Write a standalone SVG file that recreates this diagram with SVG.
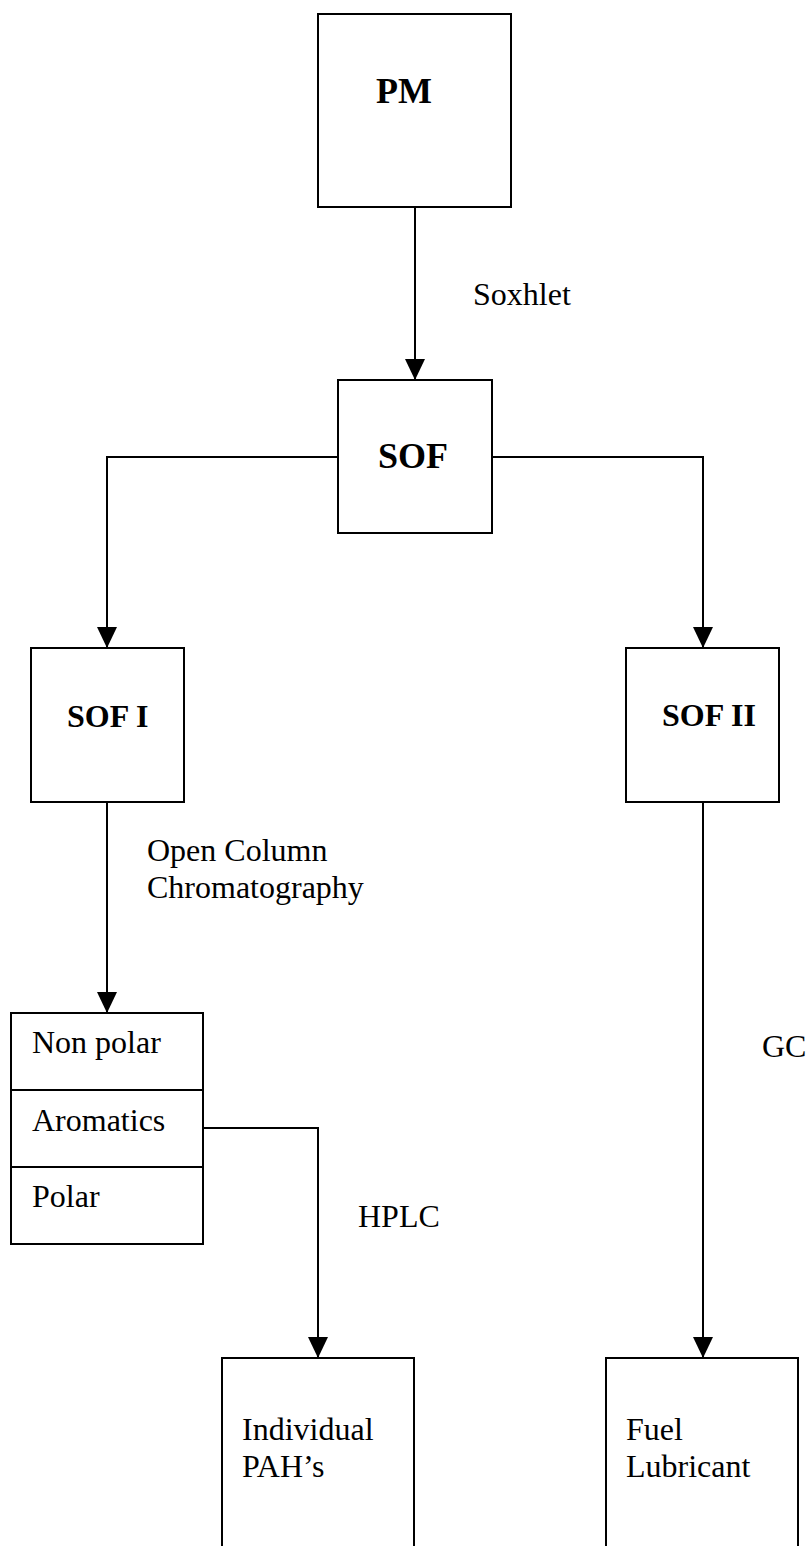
<svg xmlns="http://www.w3.org/2000/svg" width="807" height="1546" viewBox="0 0 807 1546">
<style>
.box{fill:#fff;stroke:#000;stroke-width:2}
.ln{fill:none;stroke:#000;stroke-width:2}
.b{font-family:"Liberation Serif","Times New Roman",serif;font-weight:bold;fill:#000}
.t{font-family:"Liberation Serif","Times New Roman",serif;font-size:32px;fill:#000}
</style>
<defs>
<marker id="ah" markerUnits="userSpaceOnUse" markerWidth="21" markerHeight="20" viewBox="0 0 21 20" refX="21" refY="10" orient="auto">
<path d="M0,0 L21,10 L0,20 Z" fill="#000"/>
</marker>
</defs>
<rect width="807" height="1546" fill="#fff"/>
<g id="connectors">
<path class="ln" d="M415,207 V380" marker-end="url(#ah)"/>
<path class="ln" d="M338,457 H107 V648" marker-end="url(#ah)"/>
<path class="ln" d="M492,457 H703 V648" marker-end="url(#ah)"/>
<path class="ln" d="M107,802 V1013" marker-end="url(#ah)"/>
<path class="ln" d="M203,1128 H318 V1358" marker-end="url(#ah)"/>
<path class="ln" d="M703,802 V1358" marker-end="url(#ah)"/>
<text class="t" x="473" y="305">Soxhlet</text>
<text class="t" x="147" y="861">Open Column</text>
<text class="t" x="147" y="898">Chromatography</text>
<text class="t" x="358" y="1227">HPLC</text>
<text class="t" x="762" y="1057">GC</text>
</g>
<g id="pm">
<rect class="box" x="318" y="14" width="193" height="193"/>
<text class="b" x="376" y="103" font-size="36">PM</text>
</g>
<g id="sof">
<rect class="box" x="338" y="380" width="154" height="153"/>
<text class="b" x="378" y="468" font-size="36">SOF</text>
</g>
<g id="sof1">
<rect class="box" x="31" y="648" width="153" height="154"/>
<text class="b" x="67" y="727" font-size="32">SOF I</text>
</g>
<g id="sof2">
<rect class="box" x="626" y="648" width="153" height="154"/>
<text class="b" x="662" y="726" font-size="32">SOF II</text>
</g>
<g id="fractions">
<rect class="box" x="11" y="1013" width="192" height="231"/>
<line class="ln" x1="11" y1="1090" x2="203" y2="1090"/>
<line class="ln" x1="11" y1="1167" x2="203" y2="1167"/>
<text class="t" x="32" y="1053">Non polar</text>
<text class="t" x="32" y="1131">Aromatics</text>
<text class="t" x="32" y="1207">Polar</text>
</g>
<g id="pah">
<rect class="box" x="222" y="1358" width="192" height="220"/>
<text class="t" x="242" y="1440">Individual</text>
<text class="t" x="242" y="1477">PAH’s</text>
</g>
<g id="fuel">
<rect class="box" x="606" y="1358" width="192" height="220"/>
<text class="t" x="626" y="1440">Fuel</text>
<text class="t" x="626" y="1477">Lubricant</text>
</g>
</svg>
